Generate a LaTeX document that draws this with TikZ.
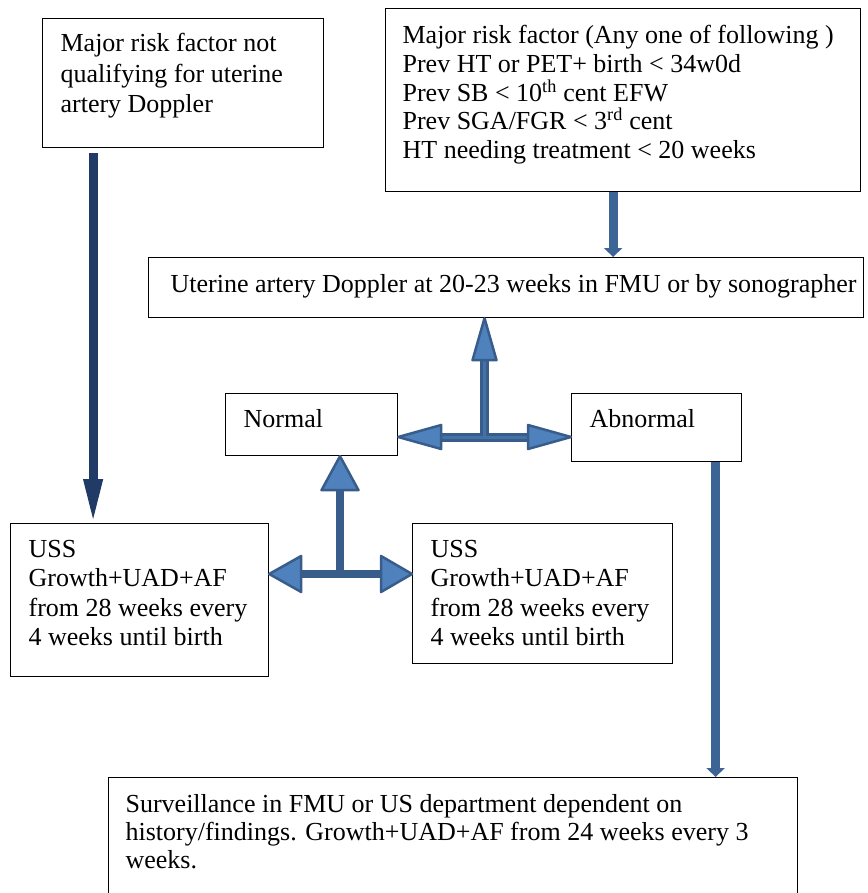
\documentclass[tikz,border=0pt]{standalone}
\usepackage{fontspec}
\setmainfont{Liberation Serif}
\usetikzlibrary{arrows.meta,calc}
\definecolor{bfill}{HTML}{4F81BD}
\definecolor{bline}{HTML}{385D8A}
\definecolor{bmid}{HTML}{4471A6}
\definecolor{tline}{HTML}{3C6596}
\definecolor{navyc}{HTML}{1F3B66}
% #1 width, #2 height, #3 left pad, #4 first baseline from top, #5 baselineskip, #6 text
\newcommand\bt[6]{\parbox[c][#2pt][t]{#1pt}{\fontsize{26pt}{#5pt}\selectfont\raggedright\leftskip=#3pt\relax\rule{0pt}{#4pt}#6}}
\begin{document}
\begin{tikzpicture}[x=1pt,y=-1pt,
  box/.style={draw=black,line width=1.2pt,inner sep=0pt,anchor=north west,fill=white},
  thinarr/.style={draw=tline,line width=9pt,-{Triangle[length=9pt,width=18pt]}},
  navyarr/.style={draw=navyc,line width=9pt,-{Triangle[length=47pt,width=17pt]}},
  stemo/.style={draw=bline,line width=#1pt},
  stemi/.style={draw=bmid,line width=#1pt},
  bhead/.style={fill=bfill,draw=bline,line width=2.5pt,line join=round}]
\useasboundingbox (0,0) rectangle (867,893);
\fill[white] (0,0) rectangle (867,893);

\node[box] (b1) at (42,18) {\bt{281}{129}{18}{33}{30.5}{Major risk factor not\\qualifying for uterine\\artery Doppler}};
\node[box] (b2) at (385,8) {\bt{475}{183}{17}{35}{28.8}{Major risk factor (Any one of following )\\Prev HT or PET+ birth < 34w0d\\Prev SB < 10\textsuperscript{th} cent EFW\\Prev SGA/FGR < 3\textsuperscript{rd} cent\\HT needing treatment < 20 weeks}};
\node[box] (uad) at (148,257) {\bt{715}{60}{22}{35}{29}{Uterine artery Doppler at 20-23 weeks in FMU or by sonographer}};
\node[box] (nrm) at (225,393) {\bt{172}{62}{18}{34}{29}{Normal}};
\node[box] (abn) at (571,393) {\bt{170}{68}{18}{34}{29}{Abnormal}};
\node[box] (ussL) at (10,523) {\bt{258}{153}{18}{34}{29.3}{USS\\Growth+UAD+AF\\from 28 weeks every\\4 weeks until birth}};
\node[box] (ussR) at (412,523) {\bt{260}{140}{18}{34}{29.3}{USS\\Growth+UAD+AF\\from 28 weeks every\\4 weeks until birth}};
\node[box] (surv) at (108,777) {\bt{689}{118}{17}{35}{28}{Surveillance in FMU or US department dependent on\\history/findings. Growth+UAD+AF from 24 weeks every 3\\weeks.}};

% thin arrows
\draw[thinarr] ([xshift=-10pt]b2.south) -- ([xshift=-10pt]b2.south |- uad.north);
\draw[thinarr] ([xshift=59pt]abn.south) -- ([xshift=59pt]abn.south |- surv.north);
\draw[navyarr,shorten >=-3pt] ([xshift=-90pt,yshift=-5pt]b1.south) -- ([xshift=-90pt]b1.south |- ussL.north);

% upper block arrow
\coordinate (j1) at (484.5,437);
\draw[stemo=9] ($(j1 -| nrm.east)+(30,0)$) -- ($(j1 -| abn.west)+(-30,0)$);
\draw[stemo=9] (j1) -- ($(j1 |- uad.south)+(0,30)$);
\draw[stemi=3] ($(j1 -| nrm.east)+(30,0)$) -- ($(j1 -| abn.west)+(-30,0)$);
\draw[stemi=3] (j1) -- ($(j1 |- uad.south)+(0,30)$);
\filldraw[bhead] (j1 -| nrm.east) -- ++(43,-12) -- ++(0,24) -- cycle;
\filldraw[bhead] (j1 -| abn.west) -- ++(-43,-12) -- ++(0,24) -- cycle;
\filldraw[bhead] (j1 |- uad.south) -- ++(-12,42) -- ++(24,0) -- cycle;

% lower block arrow
\coordinate (j2) at (340,574);
\draw[stemo=7.5] ($(j2 -| ussL.east)+(20,0)$) -- ($(j2 -| ussR.west)+(-20,0)$);
\draw[stemo=7.5] (j2) -- ($(j2 |- nrm.south)+(0,20)$);
\filldraw[bhead] (j2 -| ussL.east) -- ++(32,-18) -- ++(0,36) -- cycle;
\filldraw[bhead] (j2 -| ussR.west) -- ++(-31,-18) -- ++(0,36) -- cycle;
\filldraw[bhead] (j2 |- nrm.south) -- ++(-18.5,34) -- ++(37,0) -- cycle;
\end{tikzpicture}
\end{document}
